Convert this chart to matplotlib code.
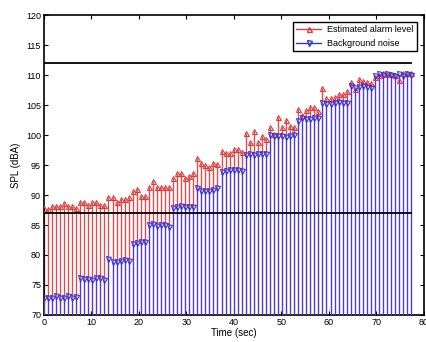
import matplotlib
matplotlib.use("Agg")
import matplotlib.pyplot as plt
import numpy as np
from matplotlib.legend_handler import HandlerLine2D
from matplotlib.lines import Line2D

plt.rcParams['font.family'] = ['Liberation Sans', 'DejaVu Sans']

# one frame every 0.85 s
dt = 0.85

# estimated alarm level (dBA), one value per frame
alarm = np.array([
    87.8, 87.7, 88.2, 88.2, 88.2, 88.6, 88.1, 88.1, 87.8,
    88.9, 88.9, 88.3, 88.9, 88.8, 88.3, 88.4,
    89.6, 89.6, 88.9, 89.3, 89.3, 89.7,
    90.6, 91.0, 89.8, 89.8,
    91.4, 92.3, 91.4, 91.4, 91.4, 91.3,
    92.8, 93.6, 93.7, 92.8, 93.2, 93.6,
    96.1, 95.3, 95.0, 94.7, 95.4, 95.1,
    97.3, 97.0, 97.0, 97.6, 97.6, 97.2,
    100.3, 98.8, 100.7, 98.8, 99.8, 99.4,
    101.3, 100.1, 103.0, 101.4, 102.5, 101.5, 101.4,
    104.3, 103.4, 104.2, 104.7, 104.6, 104.0,
    107.9, 106.1, 106.2, 106.4, 106.9, 106.9, 107.3,
    108.9, 107.6, 109.3, 109.0, 108.8, 108.6,
    109.7, 110.0, 110.4, 110.1, 110.1, 110.0, 109.2, 110.4, 110.3, 110.3,
])

# background noise (dBA)
noise = np.array([
    72.8, 72.8, 72.8, 73.1, 72.9, 72.8, 73.1, 72.8, 73.0,
    76.1, 76.0, 76.0, 75.9, 76.1, 76.2, 75.9,
    79.3, 78.9, 78.9, 79.0, 79.2, 79.0,
    81.9, 82.0, 82.1, 82.1,
    85.0, 85.1, 84.8, 85.0, 85.0, 84.6,
    87.9, 88.0, 88.1, 88.0, 88.0, 88.0,
    91.1, 90.7, 90.6, 90.7, 90.9, 91.1,
    93.8, 94.0, 94.1, 94.1, 94.2, 94.0,
    96.7, 96.8, 96.6, 96.9, 96.9, 96.8,
    100.0, 99.8, 99.9, 99.8, 99.7, 99.9, 100.0,
    102.4, 102.8, 102.6, 102.7, 102.8, 102.9,
    105.4, 105.2, 105.2, 105.3, 105.5, 105.4, 105.3,
    108.1, 107.9, 108.0, 108.2, 108.0, 107.9,
    109.9, 110.2, 110.0, 110.1, 110.0, 109.9, 110.2, 109.9, 110.1, 110.0,
])

upper_limit = 112
lower_limit = 87

t = np.arange(len(alarm)) * dt

fig = plt.figure(figsize=(4.26, 3.42), dpi=100)
ax = fig.add_axes([0.103, 0.079, 0.892, 0.877])

red = '#e03a3a'
blue = '#3333dd'

# red stems: only the part above the blue stem is visible anyway
ax.vlines(t, np.minimum(alarm, noise), alarm, color='#e04c4c', lw=1.0, zorder=2)
ax.plot(t, alarm, ls='none', marker='^', ms=3.6, mfc='none', mec=red, mew=0.8, zorder=4)
ax.vlines(t, 0, noise, color='#5038d8', lw=1.0, zorder=3)
ax.plot(t, noise, ls='none', marker='v', ms=3.6, mfc='none', mec=blue, mew=0.8, zorder=4)

ax.plot([t[0], t[-1]], [upper_limit, upper_limit], color='k', lw=1.3, zorder=5)
ax.plot([t[0], t[-1]], [lower_limit, lower_limit], color='k', lw=1.3, zorder=5)

ax.set_xlim(0, 80)
ax.set_ylim(70, 120)
ax.set_xticks(np.arange(0, 81, 10))
ax.set_yticks(np.arange(70, 121, 5))
ax.tick_params(direction='in', top=True, right=True, length=3, width=0.8,
               labelsize=6.5, pad=2)
for s in ax.spines.values():
    s.set_linewidth(1.2)

ax.set_xlabel('Time (sec)', fontsize=7, labelpad=1)
ax.set_ylabel('SPL (dBA)', fontsize=7, labelpad=4)


class EndMarker(HandlerLine2D):
    def get_xdata(self, legend, xdescent, ydescent, width, height, fontsize):
        xdata, _ = super().get_xdata(legend, xdescent, ydescent, width, height, fontsize)
        return xdata, [xdata[-1]]


h1 = Line2D([], [], color=red, marker='^', ms=3.6, mfc='none', mec=red, lw=1)
h2 = Line2D([], [], color=blue, marker='v', ms=3.6, mfc='none', mec=blue, lw=1)
leg = ax.legend([h1, h2], ['Estimated alarm level', 'Background noise'],
                loc='upper right', bbox_to_anchor=(0.993, 0.993), fontsize=6.5,
                fancybox=False, framealpha=1, edgecolor='k', borderpad=0.4,
                handlelength=2.8, handletextpad=0.6, labelspacing=0.5,
                handler_map={Line2D: EndMarker(numpoints=1)})
leg.get_frame().set_linewidth(1.0)
leg.set_zorder(10)

fig.savefig('out.png', dpi=100)
